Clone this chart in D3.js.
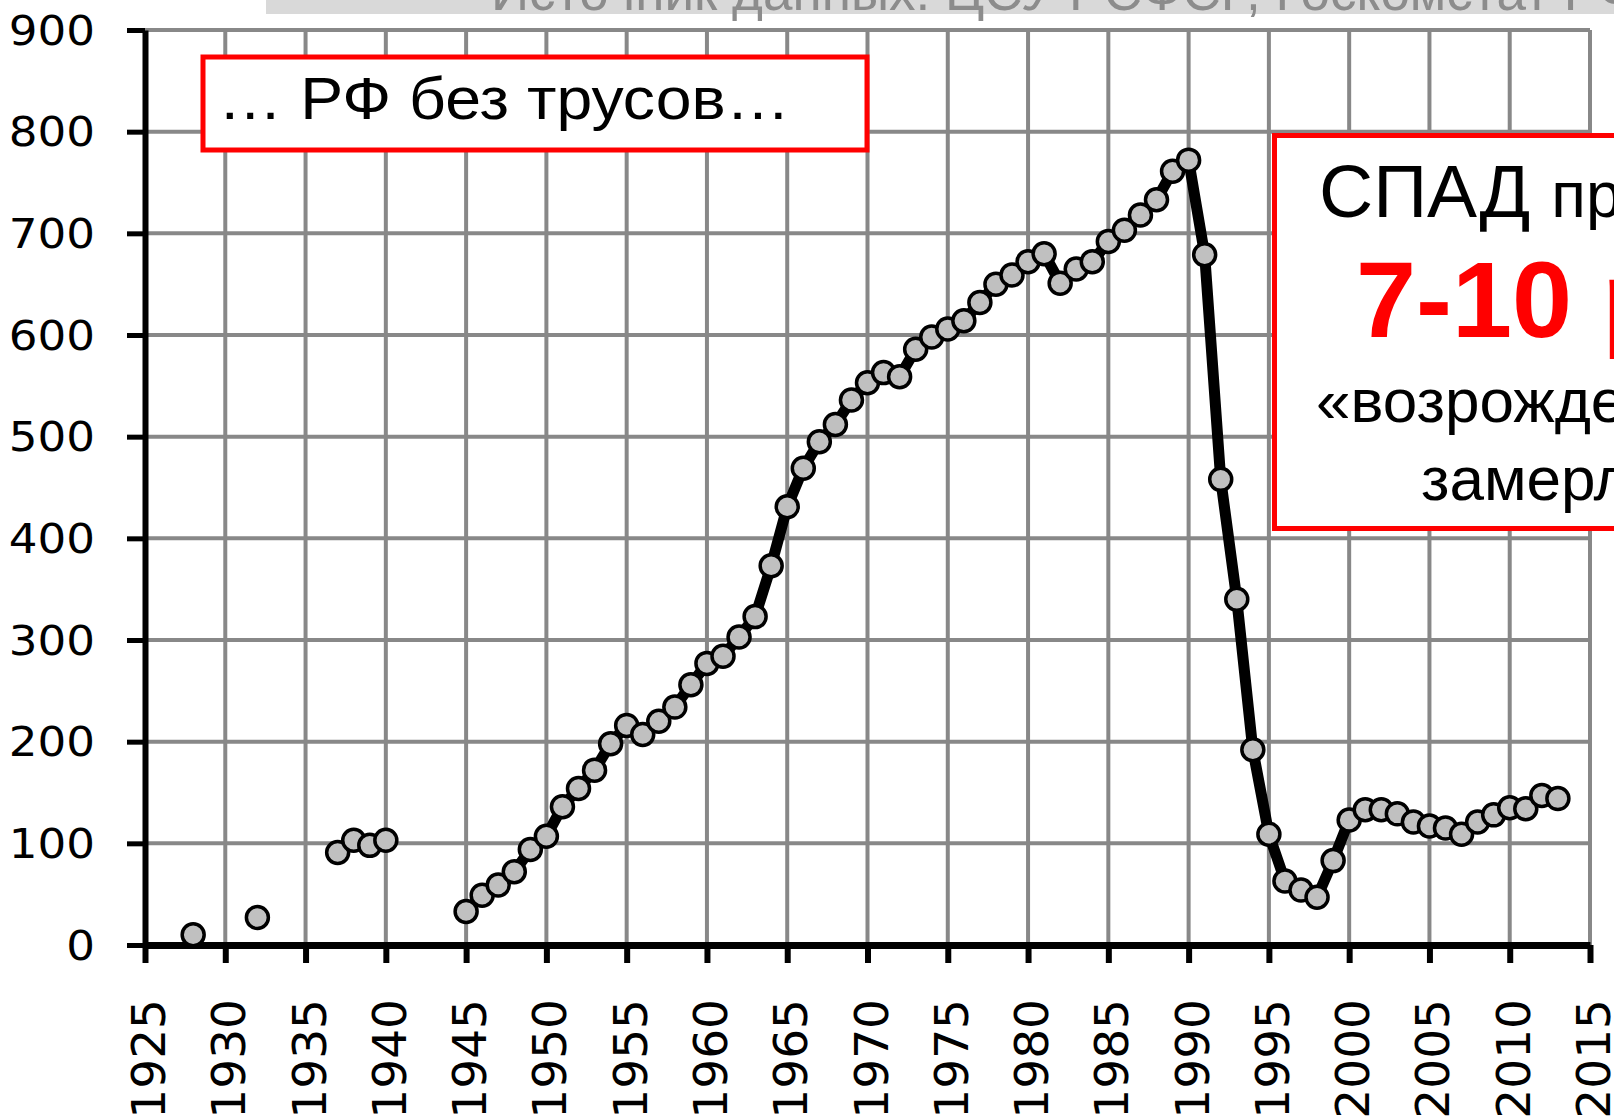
<!DOCTYPE html>
<html>
<head>
<meta charset="utf-8">
<script src="https://cdn.jsdelivr.net/npm/d3@7"></script>
<style>
  body { margin: 0; background: #fff; }
  svg { display: block; }
</style>
</head>
<body>
<svg id="chart"></svg>
<script>
// values
const years = [1928, 1932, 1937, 1938, 1939, 1940,
  1945, 1946, 1947, 1948, 1949, 1950, 1951, 1952, 1953, 1954, 1955, 1956, 1957, 1958, 1959,
  1960, 1961, 1962, 1963, 1964, 1965, 1966, 1967, 1968, 1969, 1970, 1971, 1972, 1973, 1974,
  1975, 1976, 1977, 1978, 1979, 1980, 1981, 1982, 1983, 1984, 1985, 1986, 1987, 1988, 1989,
  1990, 1991, 1992, 1993, 1994, 1995, 1996, 1997, 1998, 1999, 2000, 2001, 2002, 2003, 2004,
  2005, 2006, 2007, 2008, 2009, 2010, 2011, 2012, 2013];
const values = [10, 27, 91, 103, 98, 103,
  33, 49, 59, 72, 94, 107, 136, 154, 172, 198, 216, 207, 220, 234, 256,
  277, 284, 303, 323, 373, 431, 469, 495, 512, 536, 553, 563, 559, 586, 598,
  606, 614, 632, 650, 659, 672, 680, 651, 665, 672, 692, 703, 718, 733, 761,
  772, 679, 458, 340, 192, 109, 63, 54, 47, 83, 123, 133, 133, 129, 121,
  117, 115, 109, 121, 128, 135, 134, 147, 144];

const xTicks = d3.range(1925, 2016, 5);
const yTicks = d3.range(0, 901, 100);

const sourceText = "Источник данных: ЦСУ РСФСР, Госкомстат РФ";
const note1 = "… РФ без трусов…";
const note2 = ["СПАД", "производства", "7-10 раз", "«возрождение»", "замерло"];

let width = 1614;
let height = 1117;

let svg = d3.select('#chart')
  .attr('width', width)
  .attr('height', height);

let xScale = d3.scaleLinear().domain([1925, 2015]).range([145, 1590]);
let yScale = d3.scaleLinear().domain([0, 900]).range([945, 30]);

// source banner (cut off at the top)
svg.append('rect')
  .attr('x', 266).attr('y', 0)
  .attr('width', width - 266).attr('height', 14)
  .attr('fill', '#d9d9d9');
svg.append('text')
  .text(sourceText)
  .attr('x', 491).attr('y', 10)
  .attr('font-family', 'Liberation Sans, Arial, sans-serif')
  .attr('font-size', 53)
  .attr('fill', '#8c8c8c');

// grid
svg.append('g')
  .selectAll('line')
  .data(yTicks.filter(d => d > 0))
  .join('line')
  .attr('x1', xScale(1925)).attr('x2', xScale(2015))
  .attr('y1', d => yScale(d)).attr('y2', d => yScale(d))
  .attr('stroke', '#888').attr('stroke-width', 4);

svg.append('g')
  .selectAll('line')
  .data(xTicks.filter(d => d > 1925))
  .join('line')
  .attr('x1', d => xScale(d)).attr('x2', d => xScale(d))
  .attr('y1', yScale(900)).attr('y2', yScale(0))
  .attr('stroke', '#888').attr('stroke-width', 4);

// axes
let xAxis = d3.axisBottom(xScale).tickValues(xTicks).tickSize(18).tickSizeOuter(0).tickFormat('');
let yAxis = d3.axisLeft(yScale).tickValues(yTicks).tickSize(18).tickSizeOuter(0).tickFormat('');

let gx = svg.append('g')
  .attr('transform', `translate(0,${yScale(0)})`)
  .call(xAxis);
gx.select('.domain').attr('stroke', '#000').attr('stroke-width', 7);
gx.selectAll('.tick line').attr('stroke', '#000').attr('stroke-width', 6);

let gy = svg.append('g')
  .attr('transform', `translate(${xScale(1925)},0)`)
  .call(yAxis);
gy.select('.domain').attr('stroke', '#000').attr('stroke-width', 6);
gy.selectAll('.tick line').attr('stroke', '#000').attr('stroke-width', 5);

// tick labels
svg.append('g')
  .selectAll('text')
  .data(yTicks)
  .join('text')
  .text(d => d)
  .attr('transform', d => `translate(95,${yScale(d) + 14.5}) scale(1.13,1)`)
  .attr('text-anchor', 'end')
  .attr('font-family', 'DejaVu Sans, Verdana, sans-serif')
  .attr('font-size', 40)
  .attr('fill', '#000');

svg.append('g')
  .selectAll('text')
  .data(xTicks)
  .join('text')
  .text(d => d)
  .attr('transform', d => `translate(${xScale(d) + 20},999) rotate(-90)`)
  .attr('text-anchor', 'end')
  .attr('font-family', 'DejaVu Sans, Verdana, sans-serif')
  .attr('font-size', 47)
  .attr('fill', '#000');

// series: split into runs of consecutive years
let points = years.map((yr, i) => [yr, values[i]]);
let runs = [];
points.forEach((p, i) => {
  if (i === 0 || p[0] - points[i - 1][0] > 1) runs.push([]);
  runs[runs.length - 1].push(p);
});

let line = d3.line()
  .x(d => xScale(d[0]))
  .y(d => yScale(d[1]));

svg.append('g')
  .selectAll('path')
  .data(runs.filter(r => r.length > 1))
  .join('path')
  .attr('d', line)
  .attr('fill', 'none')
  .attr('stroke', '#000')
  .attr('stroke-width', 11)
  .attr('stroke-linejoin', 'round');

svg.append('g')
  .selectAll('circle')
  .data(points)
  .join('circle')
  .attr('cx', d => xScale(d[0]))
  .attr('cy', d => yScale(d[1]))
  .attr('r', 11)
  .attr('fill', '#c0c0c0')
  .attr('stroke', '#000')
  .attr('stroke-width', 3.5);

// note boxes
svg.append('rect')
  .attr('x', 203).attr('y', 57)
  .attr('width', 664).attr('height', 93)
  .attr('fill', '#fff')
  .attr('stroke', '#ff0000').attr('stroke-width', 5);
svg.append('text')
  .text(note1)
  .attr('x', 218).attr('y', 119)
  .attr('textLength', 572)
  .attr('lengthAdjust', 'spacingAndGlyphs')
  .attr('font-family', 'Liberation Sans, Arial, sans-serif')
  .attr('font-size', 60)
  .attr('fill', '#000');

svg.append('rect')
  .attr('x', 1274.5).attr('y', 135.5)
  .attr('width', 600).attr('height', 393)
  .attr('fill', '#fff')
  .attr('stroke', '#ff0000').attr('stroke-width', 5);

let t1 = svg.append('text')
  .attr('x', 1319).attr('y', 217)
  .attr('font-family', 'Liberation Sans, Arial, sans-serif')
  .attr('fill', '#000');
t1.append('tspan').attr('font-size', 75).text(note2[0] + ' ');
t1.append('tspan').attr('font-size', 64).text(note2[1]);

svg.append('text')
  .text(note2[2])
  .attr('x', 1356).attr('y', 337)
  .attr('font-family', 'Liberation Sans, Arial, sans-serif')
  .attr('font-weight', 'bold')
  .attr('font-size', 108)
  .attr('fill', '#ff0000');

svg.append('text')
  .text(note2[3])
  .attr('x', 1316).attr('y', 422)
  .attr('font-family', 'Liberation Sans, Arial, sans-serif')
  .attr('font-size', 62)
  .attr('fill', '#000');

svg.append('text')
  .text(note2[4])
  .attr('x', 1421).attr('y', 500)
  .attr('font-family', 'Liberation Sans, Arial, sans-serif')
  .attr('font-size', 62)
  .attr('fill', '#000');
</script>
</body>
</html>
